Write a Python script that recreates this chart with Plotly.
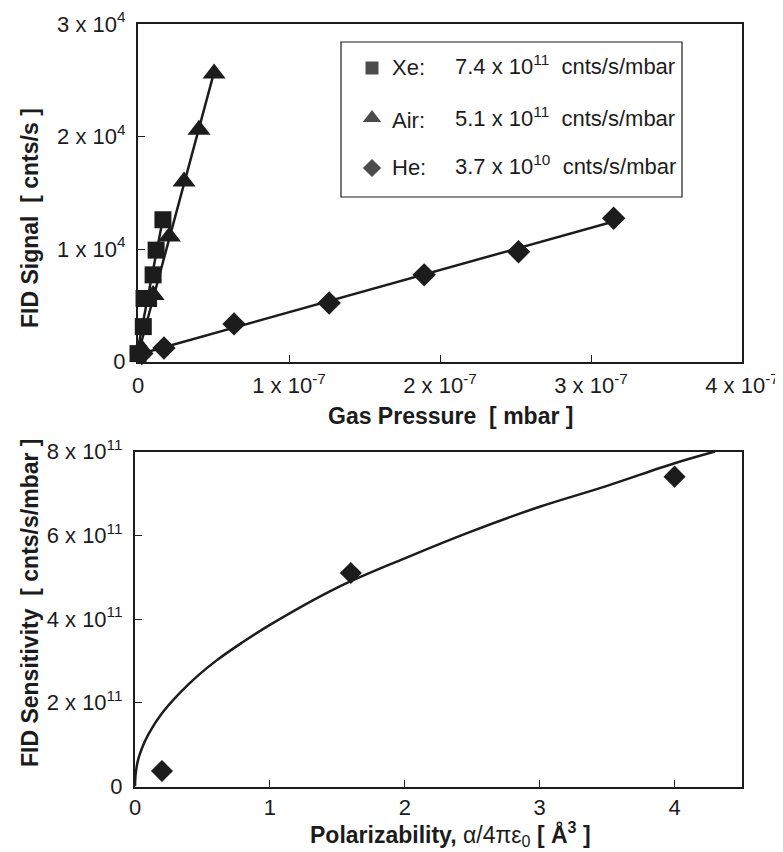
import numpy as np
import plotly.graph_objects as go

# ---------------- data ----------------
xe_p = [0.0, 0.035e-7, 0.04e-7, 0.07e-7, 0.10e-7, 0.12e-7, 0.165e-7]
xe_s = [700, 3100, 5600, 5600, 7700, 9900, 12600]
air_p = [0.02e-7, 0.10e-7, 0.208e-7, 0.305e-7, 0.404e-7, 0.504e-7]
air_s = [1200, 5900, 11100, 16000, 20600, 25600]
he_p = [0.025e-7, 0.172e-7, 0.636e-7, 1.266e-7, 1.895e-7, 2.52e-7, 3.15e-7]
he_s = [700, 1200, 3340, 5200, 7700, 9760, 12730]

pol_x = [0.2, 1.6, 4.0]
sens_y = [0.37e11, 5.1e11, 7.4e11]
curve_x = [0, 0.005, 0.02, 0.05, 0.1, 0.2, 0.4, 0.6, 0.8, 1.0, 1.5, 2.0, 2.5, 3.0, 3.5, 4.0, 4.3]
curve_y = [0, 0.3e11, 0.6e11, 0.9e11, 1.25e11, 1.75e11, 2.45e11, 3.0e11, 3.45e11, 3.86e11,
           4.75e11, 5.45e11, 6.1e11, 6.68e11, 7.18e11, 7.72e11, 8.0e11]

top_xticks = [0, 1e-7, 2e-7, 3e-7, 4e-7]
top_xtext = ["0", "1 x 10<sup>-7</sup>", "2 x 10<sup>-7</sup>", "3 x 10<sup>-7</sup>", "4 x 10<sup>-7</sup>"]
top_yticks = [0, 1e4, 2e4, 3e4]
top_ytext = ["0", "1 x 10<sup>4</sup>", "2 x 10<sup>4</sup>", "3 x 10<sup>4</sup>"]
bot_xticks = [0, 1, 2, 3, 4]
bot_xtext = ["0", "1", "2", "3", "4"]
bot_yticks = [0, 2e11, 4e11, 6e11, 8e11]
bot_ytext = ["0", "2 x 10<sup>11</sup>", "4 x 10<sup>11</sup>", "6 x 10<sup>11</sup>", "8 x 10<sup>11</sup>"]

legend_names = ["Xe:", "Air:", "He:"]
legend_vals = ["7.4 x 10<sup>11</sup>\u00a0 cnts/s/mbar", "5.1 x 10<sup>11</sup>\u00a0 cnts/s/mbar",
               "3.7 x 10<sup>10</sup>\u00a0 cnts/s/mbar"]
legend_syms = ["square", "triangle-up", "diamond"]

# ---------------- figure ----------------
OFF = 8                      # page body margin
W, H = 783 - OFF, 852 - OFF
INK = "#1c1c1c"
FONT = "Liberation Sans, Arial, Helvetica, sans-serif"
NB = "\u00a0"


def px(x):
    return (x - OFF) / W


def py(y):
    return 1 - (y - OFF) / H


fig = go.Figure()


def fit_line(xs, ys):
    a, b = np.polyfit(xs, ys, 1)
    xx = np.array([min(xs), max(xs)])
    return xx, a * xx + b


marker_size = {"diamond": 18, "triangle-up": 20, "square": 17}
for xs, ys, sym in [(he_p, he_s, "diamond"), (air_p, air_s, "triangle-up"), (xe_p, xe_s, "square")]:
    lx, ly = fit_line(xs, ys)
    fig.add_trace(go.Scatter(x=lx, y=ly, mode="lines", line=dict(color=INK, width=2.5),
                             xaxis="x", yaxis="y", showlegend=False, cliponaxis=False))
    fig.add_trace(go.Scatter(x=xs, y=ys, mode="markers",
                             marker=dict(symbol=sym, size=marker_size[sym], color=INK, line=dict(width=0)),
                             xaxis="x", yaxis="y", showlegend=False, cliponaxis=False))

fig.add_trace(go.Scatter(x=curve_x, y=curve_y, mode="lines", line=dict(color=INK, width=2.5, shape="spline"),
                         xaxis="x2", yaxis="y2", showlegend=False))
fig.add_trace(go.Scatter(x=pol_x, y=sens_y, mode="markers",
                         marker=dict(symbol="diamond", size=17, color=INK),
                         xaxis="x2", yaxis="y2", showlegend=False, cliponaxis=False))

# legend symbols drawn on an overlay axis spanning the legend box
leg_rows = [0, 1, 2]
fig.add_trace(go.Scatter(x=[0, 0, 0], y=leg_rows, mode="markers",
                         marker=dict(symbol=legend_syms, size=[13, 16, 14], color="#000000", line=dict(width=0)),
                         xaxis="x3", yaxis="y3", showlegend=False, cliponaxis=False))

axis_common = dict(showgrid=False, zeroline=False, showline=True, linecolor=INK, linewidth=2,
                   mirror=True, ticks="inside", ticklen=7, tickwidth=1.2, tickcolor=INK,
                   tickfont=dict(family=FONT, size=22, color=INK), automargin=False)

fig.update_layout(
    width=W, height=H, margin=dict(l=0, r=0, t=0, b=0),
    paper_bgcolor="white", plot_bgcolor="white", showlegend=False,
    xaxis=dict(domain=[px(138), px(742)], range=[0, 4e-7], anchor="y",
               tickvals=top_xticks, ticktext=top_xtext, ticklabelstandoff=3, **axis_common),
    yaxis=dict(domain=[py(361.5), py(24)], range=[0, 3e4], anchor="x",
               tickvals=top_yticks, ticktext=top_ytext, ticklabelstandoff=6, **axis_common),
    xaxis2=dict(domain=[px(135), px(742)], range=[0, 4.5], anchor="y2",
                tickvals=bot_xticks, ticktext=bot_xtext, ticklabelstandoff=0, **axis_common),
    yaxis2=dict(domain=[py(786.5), py(451.5)], range=[0, 8e11], anchor="x2",
                tickvals=bot_yticks, ticktext=bot_ytext, ticklabelstandoff=6, **axis_common),
    xaxis3=dict(domain=[px(362), px(382)], range=[-1, 1], visible=False, anchor="y3", fixedrange=True),
    yaxis3=dict(domain=[py(168), py(68)], range=[2, 0], visible=False, anchor="x3", fixedrange=True),
)

ann = []
title_font = dict(family=FONT, size=23, color=INK)
ann.append(dict(text=f"<b>Gas Pressure{NB} [ mbar ]</b>", x=px(450), y=py(416), xref="paper", yref="paper",
                showarrow=False, xanchor="center", yanchor="middle", font=title_font))
ann.append(dict(text=f"<b>FID Signal{NB} [ cnts/s ]</b>", x=px(30), y=py(218), xref="paper", yref="paper",
                showarrow=False, xanchor="center", yanchor="middle", textangle=-90, font=title_font))
ann.append(dict(text="<b>Polarizability,</b> α/4πε<sub>0</sub> <b>[ Å<sup>3</sup> ]</b>", x=px(450), y=py(834),
                xref="paper", yref="paper", showarrow=False, xanchor="center", yanchor="middle", font=title_font))
ann.append(dict(text=f"<b>FID Sensitivity{NB} [ cnts/s/mbar ]</b>", x=px(30), y=py(603), xref="paper",
                yref="paper", showarrow=False, xanchor="center", yanchor="middle", textangle=-90,
                font=title_font))

rows_y = [68, 120, 168]
leg_font = dict(family=FONT, size=22, color=INK)
for name, val, ry in zip(legend_names, legend_vals, rows_y):
    ann.append(dict(text=name, x=px(390), y=py(ry), xref="paper", yref="paper", showarrow=False,
                    xanchor="left", yanchor="middle", font=leg_font))
    ann.append(dict(text=val, x=px(453), y=py(ry - 3), xref="paper", yref="paper", showarrow=False,
                    xanchor="left", yanchor="middle", font=leg_font))

fig.update_layout(annotations=ann)
fig.add_shape(type="rect", xref="paper", yref="paper", x0=px(341), x1=px(682), y0=py(197), y1=py(42),
              line=dict(color=INK, width=1.2), fillcolor="rgba(0,0,0,0)")

fig.write_html("out.html")
